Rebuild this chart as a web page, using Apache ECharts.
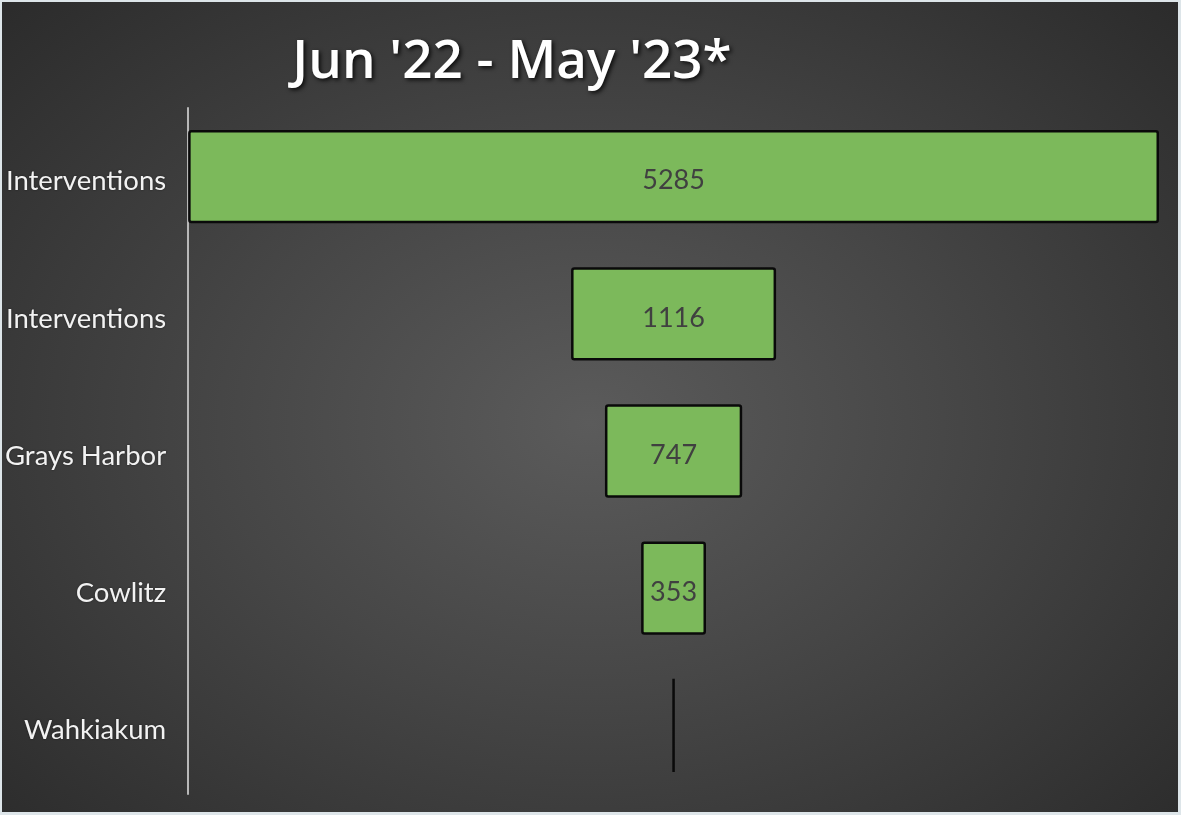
<!DOCTYPE html>
<html>
<head>
<meta charset="utf-8">
<script src="https://cdn.jsdelivr.net/npm/echarts@6/dist/echarts.min.js"></script>
<style>
html,body{margin:0;padding:0;background:#dde5e9;}
#wrap{position:absolute;left:2px;top:2px;width:1176px;height:810px;
background:radial-gradient(ellipse 70% 75% at 50% 52%, #5b5b5b 0%, #464646 45%, #2b2b2b 100%);}
#chart{width:1176px;height:810px;}
</style>
</head>
<body>
<div id="wrap"><div id="chart"></div></div>
<script>
const titleText = "Jun '22 - May '23*";
const categories = ["Interventions", "Interventions", "Grays Harbor", "Cowlitz", "Wahkiakum"];
const values = [5285, 1116, 747, 353, 0];
const maxValue = 5285;

const offsets = values.map(v => (maxValue - v) / 2);

const chart = echarts.init(document.getElementById('chart'));
chart.setOption({
  backgroundColor: 'transparent',
  animation: false,
  title: {
    text: titleText,
    left: 505, top: 29, textAlign: 'center',
    textStyle: {
      color: '#ffffff', fontSize: 53, fontWeight: 600,
      fontFamily: 'Open Sans',
      textShadowColor: 'rgba(0,0,0,0.8)', textShadowBlur: 4,
      textShadowOffsetX: 2, textShadowOffsetY: 2
    }
  },
  grid: { left: 186, right: 19, top: 106, bottom: 18 },
  xAxis: { type: 'value', min: 0, max: maxValue, show: false },
  yAxis: {
    type: 'category', data: categories, inverse: true,
    axisLine: { show: true, lineStyle: { color: '#b8b8b8', width: 2 } },
    axisTick: { show: false },
    axisLabel: {
      margin: 22,
      formatter: v => '{a|' + v + '}',
      rich: {
        a: {
          color: '#f2f2f2', fontSize: 27.5, fontFamily: 'Lato',
          padding: [10, 0, 0, 0],
          textShadowColor: 'rgba(0,0,0,0.5)', textShadowBlur: 2
        }
      }
    }
  },
  series: [
    {
      type: 'bar', stack: 'f', data: offsets, silent: true,
      itemStyle: { color: 'transparent' }, barCategoryGap: '32%'
    },
    {
      type: 'bar', stack: 'f', data: values, barCategoryGap: '32%',
      itemStyle: { color: '#7cb95b', borderColor: '#0a0a0a', borderWidth: 2.5, borderRadius: 2 },
      label: {
        show: true, position: 'inside', color: '#404040', fontSize: 27, fontFamily: 'Lato',
        offset: [0, 4],
        formatter: p => p.value > 0 ? String(p.value) : ''
      }
    }
  ]
});
</script>
</body>
</html>
